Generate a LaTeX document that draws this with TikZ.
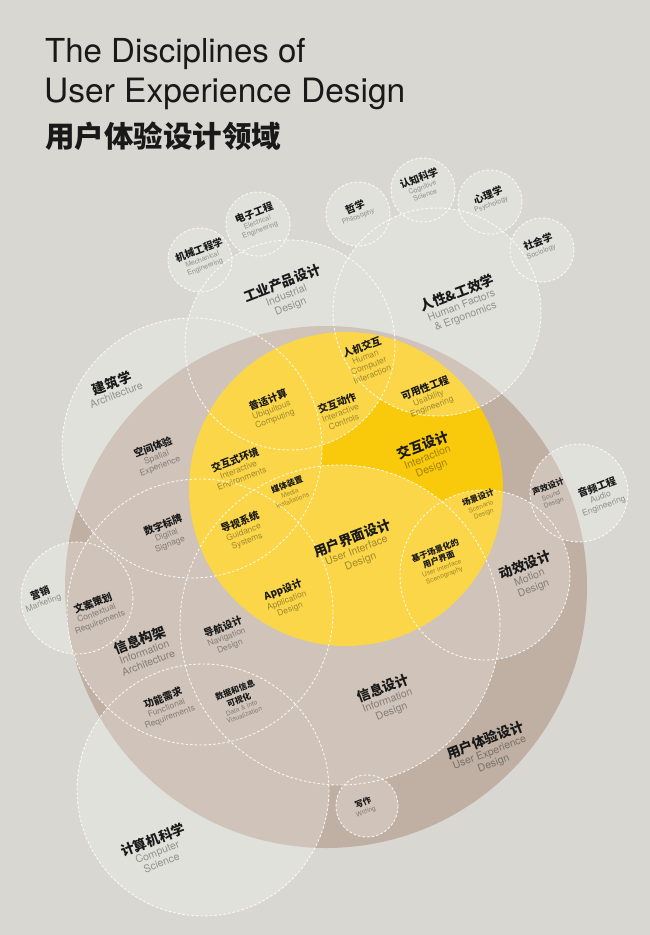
\documentclass[tikz,border=0pt]{standalone}
\usepackage{fontspec}
\usepackage{tikz}
\usetikzlibrary{positioning}
\newfontfamily\cjk{Noto Sans CJK SC}
\newfontfamily\helv{TeX Gyre Heros}
\definecolor{bgGrey}{RGB}{216,215,209}
\definecolor{uxBrown}{RGB}{191,176,163}
\definecolor{ixdYellow}{RGB}{249,201,12}
\definecolor{inkBlack}{RGB}{25,25,25}
\tikzset{
  ring/.style={draw=white, draw opacity=.85, line width=.9pt, dash pattern=on 2.6pt off 2pt},
  zh/.style={text=inkBlack, rotate=21, inner sep=.5pt, align=center},
  en/.style={text=black, text opacity=.36, rotate=21, inner sep=.5pt, align=center},
  zhL/.style={zh, font=\cjk\bfseries\fontsize{13.5}{15}\selectfont},
  enL/.style={en, font=\helv\fontsize{10.5}{11.5}\selectfont},
  zhM/.style={zh, font=\cjk\bfseries\fontsize{10}{11}\selectfont},
  enM/.style={en, font=\helv\fontsize{8.5}{9.5}\selectfont},
  zhS/.style={zh, font=\cjk\bfseries\fontsize{8.3}{10}\selectfont},
  enS/.style={en, font=\helv\fontsize{6.6}{7.6}\selectfont},
  zhD/.style={zh, font=\cjk\bfseries\fontsize{10}{11}\selectfont},
  enD/.style={en, font=\helv\fontsize{7}{8}\selectfont},
}
\begin{document}
\begin{tikzpicture}[x=1pt,y=-1pt]
  \fill[bgGrey] (0,0) rectangle (650,935);
  \useasboundingbox (0,0) rectangle (650,935);
  % Title
  \node[anchor=base west, inner sep=0, text=inkBlack, font=\helv\fontsize{33}{33}\selectfont] (title1) at (45,62) {The Disciplines of};
  \node[anchor=base west, inner sep=0, text=inkBlack, font=\helv\fontsize{33.5}{33.5}\selectfont] (title2) at (44,102) {User Experience Design};
  \node[anchor=base west, inner sep=0, text=inkBlack, font=\cjk\bfseries\fontsize{29.5}{29.5}\selectfont] (title3) at (45,147) {用户体验设计领域};

  % UX design and interaction design discs
  \fill[uxBrown] (326,587) circle (261);
  \fill[ixdYellow] (346,489) circle (157);

  % Light veil of every discipline circle (one path, so overlaps stay flat)
  \fill[white, fill opacity=.25]
    (200,260) circle (32) (258,224) circle (32) (358,214) circle (32)
    (423,190) circle (32) (490,202) circle (32) (542,250) circle (32)
    (290,345) circle (105) (437,312) circle (104) (192,448) circle (130)
    (203,790) circle (126) (77,598) circle (56) (579,493) circle (49)
    (367,806) circle (31)
    (200,612) circle (133) (340,625) circle (160) (485,575) circle (85);

  % Dashed outlines
  \draw[ring] (200,260) circle (32) (258,224) circle (32) (358,214) circle (32)
    (423,190) circle (32) (490,202) circle (32) (542,250) circle (32);
  \draw[ring] (290,345) circle (105);   % industrial design
  \draw[ring] (437,312) circle (104);   % human factors
  \draw[ring] (192,448) circle (130);   % architecture
  \draw[ring] (203,790) circle (126);   % computer science
  \draw[ring] (77,598) circle (56);     % marketing
  \draw[ring] (579,493) circle (49);    % audio
  \draw[ring] (367,806) circle (31);    % writing
  \draw[ring] (200,612) circle (133);   % information architecture
  \draw[ring] (340,625) circle (160);   % information design
  \draw[ring] (485,575) circle (85);    % motion design

  % Outer disciplines
  \node[zhD] (mech) at (199,250) {机械工程学};
  \node[enD, below=1pt of mech] (mechEn) {Mechanical\\Engineering};
  \node[zhD] (elec) at (254,213) {电子工程};
  \node[enD, below=1pt of elec] (elecEn) {Electrical\\Engineering};
  \node[zhD] (phil) at (355,207) {哲学};
  \node[enD, below=1pt of phil] (philEn) {Philosophy};
  \node[zhD] (cogn) at (419,178) {认知科学};
  \node[enD, below=1pt of cogn] (cognEn) {Cognitive\\Science};
  \node[zhD] (psy) at (488,195) {心理学};
  \node[enD, below=1pt of psy] (psyEn) {Psychology};
  \node[zhD] (soc) at (538,242) {社会学};
  \node[enD, below=1pt of soc] (socEn) {Sociology};

  \node[zhL] (indus) at (282,283) {工业产品设计};
  \node[enL, below=1pt of indus] (indusEn) {Industrial\\Design};
  \node[zhL] (human) at (457,293) {人性\&工效学};
  \node[enL, below=1pt of human] (humanEn) {Human Factors\\\& Ergonomics};
  \node[zhL] (arch) at (112,383) {建筑学};
  \node[enL, below=1pt of arch] (archEn) {Architecture};
  \node[zhL] (cs) at (153,840) {计算机科学};
  \node[enL, below=1pt of cs] (csEn) {Computer\\Science};
  \node[zhM] (mkt) at (40,593) {营销};
  \node[enM, below=1pt of mkt] (mktEn) {Marketing};
  \node[zhM] (audio) at (597,487) {音频工程};
  \node[enM, below=1pt of audio] (audioEn) {Audio\\Engineering};
  \node[zhS] (write) at (363,803) {写作};
  \node[enS, below=1pt of write] (writeEn) {Writing};

  % Inside user experience design
  \node[zhL] (ux) at (485,740) {用户体验设计};
  \node[enL, below=1pt of ux] (uxEn) {User Experience\\Design};
  \node[zhL] (ixd) at (423,445) {交互设计};
  \node[enL, below=1pt of ixd] (ixdEn) {Interaction\\Design};
  \node[zhL] (ui) at (352,538) {用户界面设计};
  \node[enL, below=1pt of ui] (uiEn) {User Interface\\Design};
  \node[zhL] (motion) at (525,565) {动效设计};
  \node[enL, below=1pt of motion] (motionEn) {Motion\\Design};
  \node[zhL] (ia) at (140,640) {信息构架};
  \node[enL, below=1pt of ia] (iaEn) {Information\\Architecture};
  \node[zhL] (info) at (383,688) {信息设计};
  \node[enL, below=1pt of info] (infoEn) {Information\\Design};

  \node[zhM] (spatial) at (153,447) {空间体验};
  \node[enM, below=1pt of spatial] (spatialEn) {Spatial\\Experience};
  \node[zhM] (ubi) at (268,400) {普适计算};
  \node[enM, below=1pt of ubi] (ubiEn) {Ubiquitous\\Computing};
  \node[zhM] (hci) at (362,347) {人机交互};
  \node[enM, below=1pt of hci] (hciEn) {Human\\Computer\\Interaction};
  \node[zhM] (ctrl) at (337,403) {交互动作};
  \node[enM, below=1pt of ctrl] (ctrlEn) {Interactive\\Controls};
  \node[zhM] (usab) at (425,388) {可用性工程};
  \node[enM, below=1pt of usab] (usabEn) {Usability\\Engineering};
  \node[zhM] (env) at (235,460) {交互式环境};
  \node[enM, below=1pt of env] (envEn) {Interactive\\Environments};
  \node[zhM] (guide) at (240,522) {导视系统};
  \node[enM, below=1pt of guide] (guideEn) {Guidance\\Systems};
  \node[zhM] (sign) at (163,525) {数字标牌};
  \node[enM, below=1pt of sign] (signEn) {Digital\\Signage};
  \node[zhM] (app) at (283,590) {App设计};
  \node[enM, below=1pt of app] (appEn) {Application\\Design};
  \node[zhM] (nav) at (223,627) {导航设计};
  \node[enM, below=1pt of nav] (navEn) {Navigation\\Design};
  \node[zhM] (func) at (163,698) {功能需求};
  \node[enM, below=1pt of func] (funcEn) {Functional\\Requirements};
  \node[zhM] (copy) at (93,603) {文案策划};
  \node[enM, below=1pt of copy] (copyEn) {Contextual\\Requirements};

  \node[zhS] (media) at (287,485) {媒体装置};
  \node[enS, below=1pt of media] (mediaEn) {Media\\Installations};
  \node[zhS] (scen) at (478,498) {场景设计};
  \node[enS, below=1pt of scen] (scenEn) {Scenario\\Design};
  \node[zhS] (scenUi) at (437,555) {基于场景化的\\用户界面};
  \node[enS, below=1pt of scenUi] (scenUiEn) {User Interface\\Scenography};
  \node[zhS] (data) at (237,695) {数据和信息\\可视化};
  \node[enS, below=1pt of data] (dataEn) {Data \& Info\\Visualization};
  \node[zhS] (sound) at (548,487) {声效设计};
  \node[enS, below=1pt of sound] (soundEn) {Sound\\Design};
\end{tikzpicture}
\end{document}
